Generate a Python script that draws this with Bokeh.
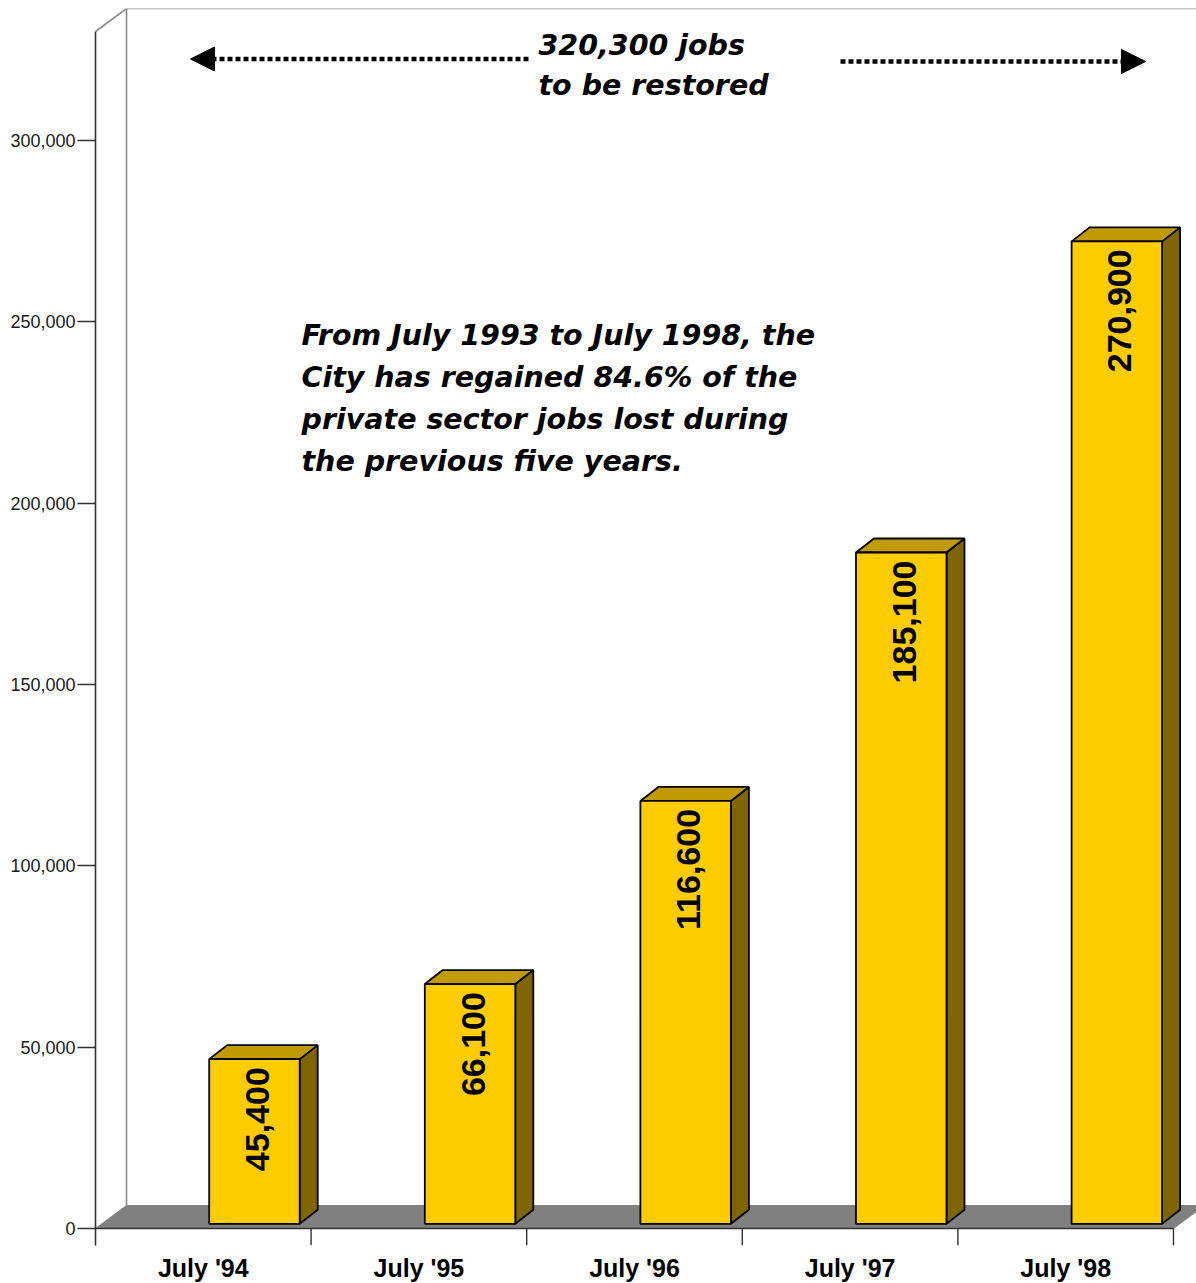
import numpy as np
from bokeh.plotting import figure
from bokeh.models import (ColumnDataSource, FixedTicker, NumeralTickFormatter,
                          Arrow, NormalHead, Range1d)
from bokeh.core.properties import value
from bokeh.embed import file_html
from bokeh.resources import INLINE

# ---------------- data ----------------
categories = ["July '94", "July '95", "July '96", "July '97", "July '98"]
jobs_regained = [45400, 66100, 116600, 185100, 270900]
bar_labels = ["45,400", "66,100", "116,600", "185,100", "270,900"]
y_ticks = [0, 50000, 100000, 150000, 200000, 250000, 300000]
title_lines = ["320,300 jobs", "to be restored"]
note_lines = ["From July 1993 to July 1998, the",
              "City has regained 84.6% of the",
              "private sector jobs lost during",
              "the previous five years."]

# ---------------- layout (pixel geometry of the reference) ----------------
SLOT_PX = 215.6                 # px per category slot
PXY = 1088.0 / 300000           # px per job
ZERO_Y = 1228.0                 # page y of value 0
LEFT_X = 95.0                   # page x of the value axis
TOP_Y, BOTTOM_Y, RIGHT_X = 8.0, 1245.0, 1196.0
AXIS_TOP_Y = 31.0

def dx(px):
    return px / SLOT_PX

def dy(px):
    return px / PXY

def X(page_x):
    return (page_x - LEFT_X) / SLOT_PX

def Y(page_y):
    return (ZERO_Y - page_y) / PXY

WALL_DX, WALL_DY = 31.0, 23.0
BAR_OFF, BAR_W = 113.7, 90.5
BAR_DX, BAR_DY = 18.0, 14.0
BAR_BASE = 4.7

FRONT = "#FFCC00"
TOPC = "#BF9A00"
SIDE = "#7F6600"
FLOOR = "#808080"
WALL = "#8a8a8a"
AX = "#333333"

p = figure(frame_width=int(RIGHT_X - LEFT_X), frame_height=int(BOTTOM_Y - TOP_Y),
           min_border_left=int(LEFT_X), min_border_right=0,
           min_border_top=int(TOP_Y), min_border_bottom=38,
           x_range=Range1d(0, X(RIGHT_X)), y_range=Range1d(Y(BOTTOM_Y), Y(TOP_Y)),
           output_backend="svg", toolbar_location=None)
p.outline_line_color = None
p.grid.visible = False
p.background_fill_color = "white"
p.border_fill_color = "white"

n = len(categories)
idx = np.arange(n)

# floor
p.patch(x=[0, dx(WALL_DX), n + dx(WALL_DX), n],
        y=[0, dy(WALL_DY), dy(WALL_DY), 0],
        fill_color=FLOOR, line_color=FLOOR, line_width=1)

# back wall edges
wall_top = Y(AXIS_TOP_Y) + dy(WALL_DY)
p.segment(x0=[0, dx(WALL_DX), dx(WALL_DX)],
          y0=[Y(AXIS_TOP_Y), wall_top, dy(WALL_DY)],
          x1=[dx(WALL_DX), X(RIGHT_X) + 1, dx(WALL_DX)],
          y1=[wall_top, wall_top, wall_top],
          line_color=WALL, line_width=1.6)

# floor front edge and category separators
p.segment(x0=[0], y0=[0], x1=[n], y1=[0], line_color=AX, line_width=1.6)
p.segment(x0=list(idx[1:]) + [n], y0=[0] * n, x1=list(idx[1:]) + [n],
          y1=[Y(BOTTOM_Y)] * n, line_color=AX, line_width=1.4)

# bars
left = idx + dx(BAR_OFF)
right = left + dx(BAR_W)
base = np.full(n, dy(BAR_BASE))
top = base + np.array(jobs_regained, dtype=float)
ddx, ddy = dx(BAR_DX), dy(BAR_DY)

top_xs = [[l, l + ddx, r + ddx, r] for l, r in zip(left, right)]
top_ys = [[t, t + ddy, t + ddy, t] for t in top]
side_xs = [[r, r + ddx, r + ddx, r] for r in right]
side_ys = [[b, b + ddy, t + ddy, t] for b, t in zip(base, top)]

p.patches(xs=side_xs, ys=side_ys, fill_color=SIDE, line_color="black", line_width=1.8)
p.patches(xs=top_xs, ys=top_ys, fill_color=TOPC, line_color="black", line_width=1.8)
p.quad(left=left, right=right, bottom=base, top=top,
       fill_color=FRONT, line_color="black", line_width=1.8)

# value labels inside bars
lab_src = ColumnDataSource(dict(x=(left + right) / 2 + dx(3), y=top - dy(8), t=bar_labels))
p.text(x="x", y="y", text="t", source=lab_src, angle=np.pi / 2,
       text_align="right", text_baseline="middle",
       text_font=value("Liberation Sans"), text_font_style="bold",
       text_font_size="34px", text_color="black")

# title lines
p.text(x=[X(538)] * 2, y=[Y(44.5), Y(84.5)], text=title_lines,
       text_align="left", text_baseline="alphabetic",
       text_font=value("DejaVu Sans"), text_font_style="bold italic",
       text_font_size="28.5px", text_color="black")

# note lines
p.text(x=[X(301)] * 4,
       y=[Y(v) for v in (334.5, 376.5, 418.5, 460.5)], text=note_lines,
       text_align="left", text_baseline="alphabetic",
       text_font=value("DejaVu Sans"), text_font_style="bold italic",
       text_font_size="28.5px", text_color="black")

# arrows
p.add_layout(Arrow(end=NormalHead(size=24, fill_color="black", line_color="black"),
                   x_start=X(528), y_start=Y(58.5), x_end=X(190), y_end=Y(58.5),
                   line_color="black", line_width=4.5, line_dash="5 3"))
p.add_layout(Arrow(end=NormalHead(size=24, fill_color="black", line_color="black"),
                   x_start=X(840), y_start=Y(61), x_end=X(1145), y_end=Y(61),
                   line_color="black", line_width=4.5, line_dash="5 3"))

# value axis
yax = p.yaxis[0]
yax.ticker = FixedTicker(ticks=y_ticks)
yax.formatter = NumeralTickFormatter(format="0,0")
yax.bounds = (Y(BOTTOM_Y), Y(AXIS_TOP_Y))
yax.axis_line_color = AX
yax.axis_line_width = 1.6
yax.major_tick_out = 18
yax.major_tick_in = 0
yax.major_tick_line_color = AX
yax.major_tick_line_width = 1.4
yax.minor_tick_line_color = None
yax.major_label_standoff = 2
yax.major_label_text_font = "Liberation Sans"
yax.major_label_text_font_size = "18px"
yax.major_label_text_color = "#1a1a1a"

# category axis
xax = p.xaxis[0]
xax.ticker = FixedTicker(ticks=[float(i) + 0.5 for i in idx])
xax.major_label_overrides = {float(i) + 0.5: c for i, c in zip(idx, categories)}
xax.axis_line_color = None
xax.major_tick_line_color = None
xax.minor_tick_line_color = None
xax.major_tick_out = 0
xax.major_tick_in = 0
xax.major_label_standoff = 8
xax.major_label_text_font = "Liberation Sans"
xax.major_label_text_font_style = "bold"
xax.major_label_text_font_size = "25px"
xax.major_label_text_color = "black"

open("out.html", "w").write(file_html(p, INLINE))
